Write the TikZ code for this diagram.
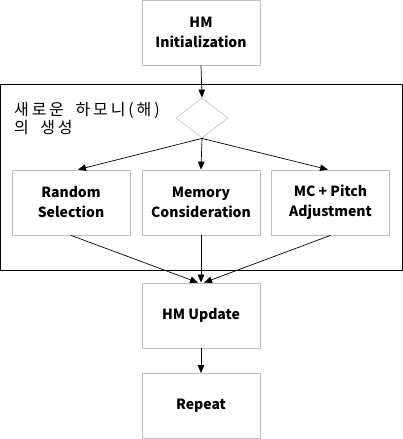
\documentclass[tikz,border=0pt]{standalone}
\usepackage{fontspec}
\setmainfont{Noto Sans CJK KR}
\newfontfamily\krfont[LetterSpace=18]{Noto Sans CJK KR}
\usetikzlibrary{arrows.meta,shapes.geometric}
\begin{document}
\begin{tikzpicture}[x=1pt,y=-1pt,
  stepbox/.style={draw=black!25,line width=0.8pt,minimum width=118pt,minimum height=65pt,inner sep=0pt,align=center,font=\bfseries\fontsize{14}{20}\selectfont},
  lbltext/.style={anchor=base west,inner sep=0pt,font=\krfont\fontsize{16}{18}\selectfont},
  conn/.style={-{Triangle[length=8pt,width=6.5pt]},line width=0.7pt}]
\useasboundingbox (0,0) rectangle (403,439);
\draw[line width=1pt] (0.5,84) rectangle (402,270);
\node[stepbox] (init) at (201,32.5) {HM\\Initialization};
\node[draw=black!20,line width=0.8pt,diamond,minimum width=52pt,minimum height=40pt,inner sep=0pt,aspect=1.3] (dec) at (202,118) {};
\node[lbltext] (lbla) at (14,115) {새로운\hspace{5pt} 하모니(해)};
\node[lbltext] (lblb) at (14,133.5) {의\hspace{5pt} 생성};
\node[stepbox] (rand) at (71,202.5) {Random\\Selection};
\node[stepbox] (mem) at (201,202.5) {Memory\\Consideration};
\node[stepbox] (mc) at (330.5,202.5) {MC + Pitch\\Adjustment};
\node[stepbox] (upd) at (201,315.5) {HM Update};
\node[stepbox] (rep) at (201,406) {Repeat};
\draw[conn] (init.south) -- (dec.north);
\draw[conn] (dec.south) -- (rand.north -| 78,0);
\draw[conn] (dec.south) -- (mem.north);
\draw[conn] (dec.south) -- (mc.north -| 328,0);
\draw[conn] (rand.south) -- ([xshift=-3pt]upd.north);
\draw[conn] (mem.south) -- (upd.north);
\draw[conn] (mc.south) -- ([xshift=3pt]upd.north);
\draw[conn] (upd.south) -- (rep.north);
\end{tikzpicture}
\end{document}
